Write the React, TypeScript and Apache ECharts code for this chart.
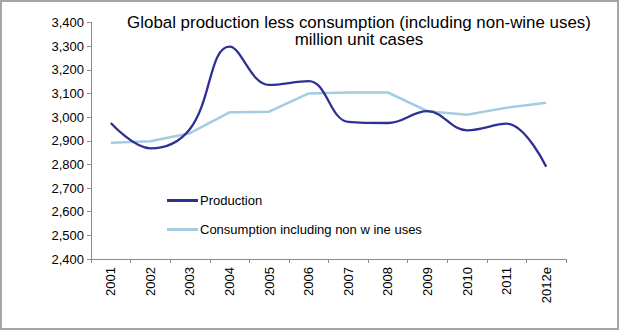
import React, { useEffect, useRef } from "react";
import * as echarts from "echarts";

const years = ["2001", "2002", "2003", "2004", "2005", "2006", "2007", "2008", "2009", "2010", "2011", "2012e"];
const production = [2975, 2868, 2950, 3298, 3136, 3152, 2980, 2975, 3025, 2944, 2972, 2790];
const consumption = [2892, 2898, 2932, 3020, 3023, 3100, 3104, 3104, 3025, 3010, 3040, 3061];
const titleLines = ["Global production less consumption (including non-wine uses)", "million unit cases"];
const seriesNames = ["Production", "Consumption including non w ine uses"];

export default function App() {
  const ref = useRef<HTMLDivElement>(null);
  useEffect(() => {
    if (!ref.current) return;
    const chart = echarts.init(ref.current, null, { renderer: "svg" });
    const font = "'Liberation Sans', Arial, sans-serif";
    chart.setOption({
      animation: false,
      backgroundColor: "#ffffff",
      textStyle: { fontFamily: font },
      legend: {
        orient: "vertical",
        left: 167,
        top: 194,
        padding: 0,
        itemWidth: 31,
        itemHeight: 3,
        itemGap: 16,
        icon: "rect",
        textStyle: { fontFamily: font, fontSize: 13, color: "#000", padding: [0, 0, 0, -3] },
        data: seriesNames,
      },
      graphic: [
        {
          type: "rect",
          shape: { x: 1, y: 1, width: 617, height: 328 },
          style: { fill: "none", stroke: "#a6a6a6", lineWidth: 2 },
          silent: true,
        },
        {
          type: "text",
          x: 359,
          y: 22,
          style: {
            text: titleLines[0],
            fontFamily: font,
            fontSize: 16.9,
            fill: "#000",
            textAlign: "center",
            textVerticalAlign: "middle",
          },
          silent: true,
        },
        {
          type: "text",
          x: 359,
          y: 39.3,
          style: {
            text: titleLines[1],
            fontFamily: font,
            fontSize: 16.9,
            fill: "#000",
            textAlign: "center",
            textVerticalAlign: "middle",
          },
          silent: true,
        },
      ],
      grid: { left: 91, right: 54, top: 22.5, bottom: 72 },
      xAxis: {
        type: "category",
        data: years,
        boundaryGap: true,
        axisLine: { lineStyle: { color: "#8c8c8c", width: 1 } },
        axisTick: { show: true, length: 4, interval: 0, lineStyle: { color: "#8c8c8c" } },
        axisLabel: { rotate: 90, margin: 8, fontSize: 13, color: "#000", fontFamily: font, interval: 0 },
      },
      yAxis: {
        type: "value",
        min: 2400,
        max: 3400,
        interval: 100,
        splitLine: { show: false },
        axisLine: { show: true, lineStyle: { color: "#8c8c8c", width: 1 } },
        axisTick: { show: true, length: 4, lineStyle: { color: "#8c8c8c" } },
        axisLabel: {
          fontSize: 13,
          color: "#000",
          fontFamily: font,
          margin: 7,
          formatter: (v: number) => v.toLocaleString("en-US"),
        },
      },
      series: [
        {
          name: seriesNames[0],
          type: "line",
          data: production,
          smooth: 0.4,
          showSymbol: false,
          symbol: "none",
          lineStyle: { color: "#2e3192", width: 2.3 },
          itemStyle: { color: "#2e3192" },
          z: 3,
        },
        {
          name: seriesNames[1],
          type: "line",
          data: consumption,
          smooth: false,
          showSymbol: false,
          symbol: "none",
          lineStyle: { color: "#a3cce3", width: 2.5 },
          itemStyle: { color: "#a3cce3" },
          z: 2,
        },
      ],
    });
    return () => chart.dispose();
  }, []);
  return <div ref={ref} style={{ position: "fixed", left: 0, top: 0, width: 620, height: 331 }} />;
}
